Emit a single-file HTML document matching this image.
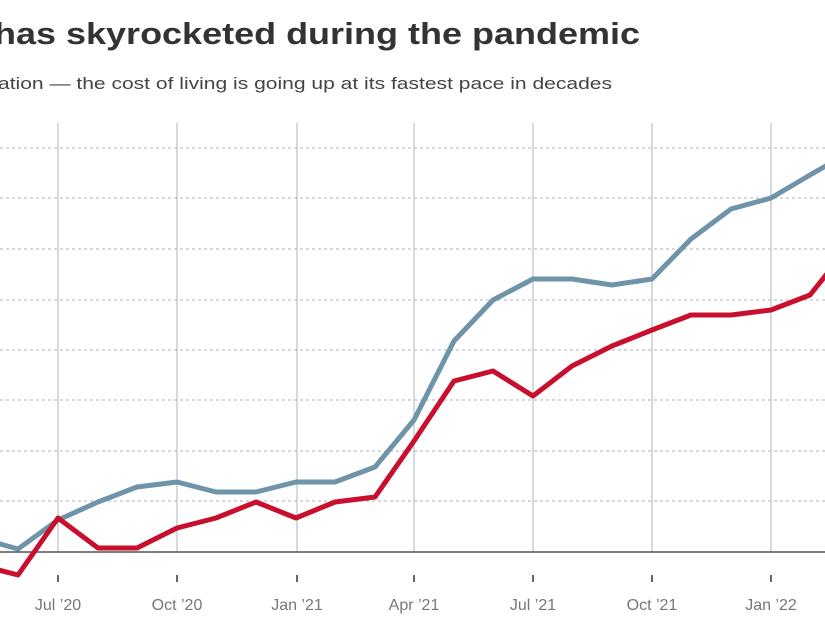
<!DOCTYPE html>
<html><head><meta charset="utf-8"><style>
html,body{margin:0;padding:0;background:#fff;width:825px;height:630px;overflow:hidden}
</style></head><body>
<svg width="825" height="630" xmlns="http://www.w3.org/2000/svg" font-family="'Liberation Sans',sans-serif">
<text x="-6" y="44" font-size="31" font-weight="bold" fill="#333" textLength="646" lengthAdjust="spacingAndGlyphs">has skyrocketed during the pandemic</text>
<text x="-2" y="89" font-size="17" fill="#444" textLength="614" lengthAdjust="spacingAndGlyphs">ation — the cost of living is going up at its fastest pace in decades</text>
<g stroke="#aab4be" stroke-width="1">
<line x1="58" y1="123" x2="58" y2="552"/><line x1="177" y1="123" x2="177" y2="552"/>
<line x1="297" y1="123" x2="297" y2="552"/><line x1="414" y1="123" x2="414" y2="552"/>
<line x1="533" y1="123" x2="533" y2="552"/><line x1="652" y1="123" x2="652" y2="552"/>
<line x1="771" y1="123" x2="771" y2="552"/>
</g>
<g stroke="#a9b3bb" stroke-width="1" stroke-dasharray="3,3">
<line x1="0" y1="148" x2="825" y2="148"/><line x1="0" y1="198" x2="825" y2="198"/>
<line x1="0" y1="249" x2="825" y2="249"/><line x1="0" y1="300" x2="825" y2="300"/>
<line x1="0" y1="350" x2="825" y2="350"/><line x1="0" y1="400" x2="825" y2="400"/>
<line x1="0" y1="451" x2="825" y2="451"/><line x1="0" y1="501" x2="825" y2="501"/>
</g>
<line x1="0" y1="552" x2="825" y2="552" stroke="#333" stroke-width="1.3"/>
<g stroke="#333" stroke-width="1.5">
<line x1="58" y1="575" x2="58" y2="582"/><line x1="177" y1="575" x2="177" y2="582"/>
<line x1="297" y1="575" x2="297" y2="582"/><line x1="414" y1="575" x2="414" y2="582"/>
<line x1="533" y1="575" x2="533" y2="582"/><line x1="652" y1="575" x2="652" y2="582"/>
<line x1="771" y1="575" x2="771" y2="582"/>
</g>
<g font-size="16" fill="#777" text-anchor="middle">
<text x="58" y="610">Jul ’20</text><text x="177" y="610">Oct ’20</text>
<text x="297" y="610">Jan ’21</text><text x="414" y="610">Apr ’21</text>
<text x="533" y="610">Jul ’21</text><text x="652" y="610">Oct ’21</text>
<text x="771" y="610">Jan ’22</text>
</g>
<polyline fill="none" stroke="#6f93a8" stroke-width="5" stroke-linejoin="round" points="-21,538 18,549 58,520 98,502 137,487 177,482 216,492 256,492 296,482 335,482 375,467 414,420 454,341 493,300 533,279 572,279 612,285 652,279 691,239 731,209 771,198 810,175 850,152"/>
<polyline fill="none" stroke="#c8102e" stroke-width="5" stroke-linejoin="round" points="-21,565 18,575 58,518 98,548 137,548 177,528 216,518 256,502 296,518 335,502 375,497 414,441 454,381 493,371 533,396 572,366 612,346 652,330 691,315 731,315 771,310 810,295 850,245"/>
</svg>
</body></html>
